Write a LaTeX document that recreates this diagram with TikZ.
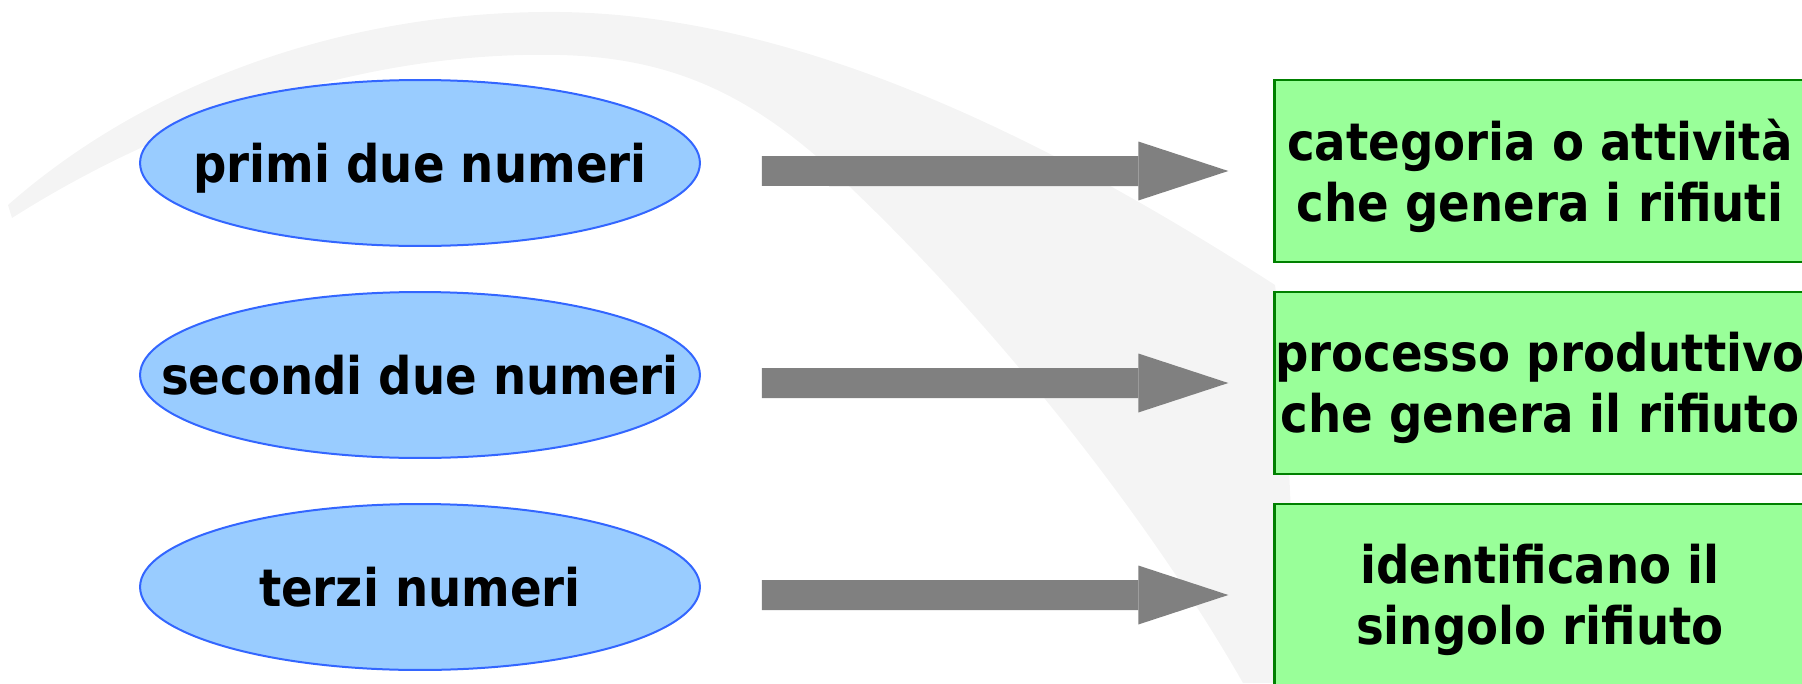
\documentclass[tikz,border=0pt]{standalone}
\usepackage{fontspec}
\setmainfont{DejaVu Sans Condensed}
\usetikzlibrary{arrows.meta,shapes.geometric}
\definecolor{sky}{RGB}{153,204,255}
\definecolor{skyline}{RGB}{51,102,255}
\definecolor{mint}{RGB}{153,255,153}
\definecolor{mintline}{RGB}{0,128,0}
\definecolor{steel}{RGB}{128,128,128}
\definecolor{mist}{RGB}{244,244,244}
\tikzset{
  blob/.style={ellipse,draw=skyline,fill=sky,line width=0.04cm,
    minimum width=11.2cm,minimum height=3.32cm,inner sep=0pt},
  lbl/.style={font=\fontsize{29.5}{34.5}\selectfont\bfseries,
    text height=22.4pt,text depth=0pt,inner sep=0pt},
  card/.style={draw=mintline,fill=mint,line width=0.05cm,
    minimum width=10.62cm,minimum height=3.64cm,inner sep=0pt},
  cardtxt/.style={font=\fontsize{29.5}{34.5}\selectfont\bfseries,
    align=center,inner sep=0pt,yshift=-0.1cm},
  fat/.style={-{Triangle[length=1.8cm,width=1.18cm,line width=0pt]},
    line width=0.6cm,draw=steel},
}

\begin{document}
\begin{tikzpicture}[x=0.02cm,y=-0.02cm]
  \useasboundingbox (0,0) rectangle (1802,683);
  % swoosh in the background
  \fill[mist] (8,205) .. controls (150,80) and (350,10) .. (560,12)
    .. controls (800,15) and (1050,140) .. (1275,285)
    .. controls (1290,400) and (1290,550) .. (1300,683)
    -- (1243,683)
    .. controls (1150,520) and (1000,330) .. (850,187)
    .. controls (760,100) and (680,58) .. (560,55)
    .. controls (350,50) and (150,130) .. (12,218) -- cycle;
  \foreach \n/\y/\l/\r in {
    1/163/primi due numeri/categoria o attività\\che genera i rifiuti,
    2/375/secondi due numeri/processo produttivo\\che genera il rifiuto,
    3/587/terzi numeri/identificano il\\singolo rifiuto}
  {
    \node[blob,label={[lbl]center:\l}] (e\n) at (420,\y) {};
    \node[card,label={[cardtxt]center:\r}] (b\n) at (1540,\y+8) {};
    \draw[fat] ([xshift=1.22cm,yshift=-0.16cm]e\n.east) -- ([xshift=-0.9cm]b\n.west);
  }
\end{tikzpicture}
\end{document}
